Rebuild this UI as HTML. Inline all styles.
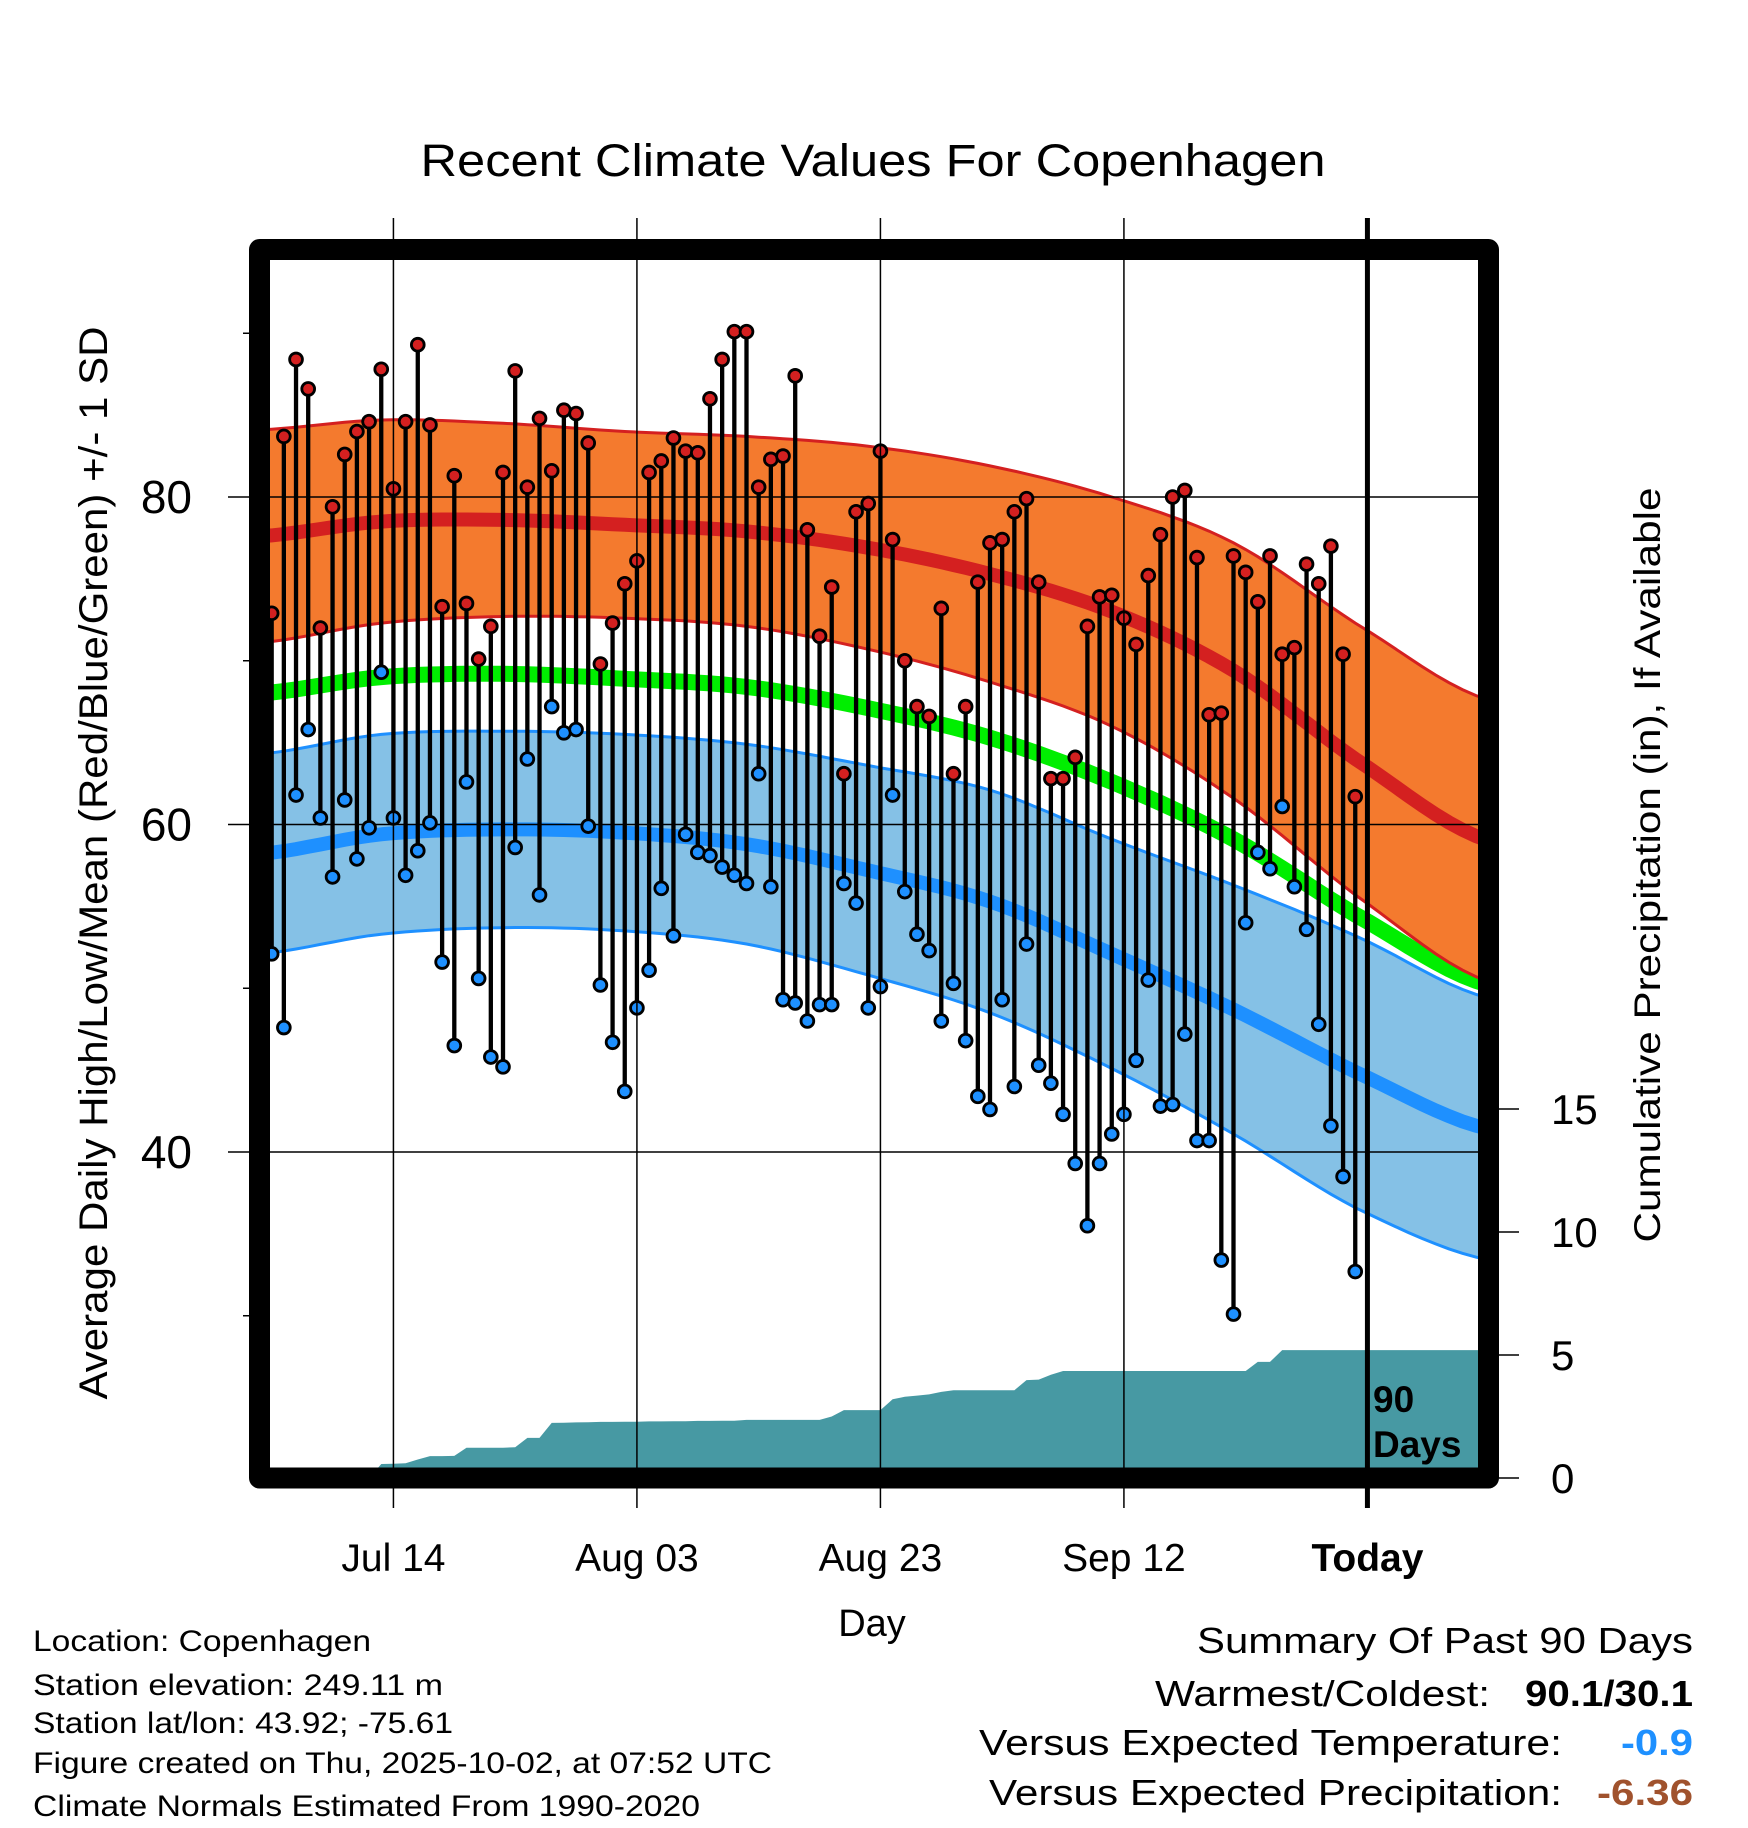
<!DOCTYPE html>
<html><head><meta charset="utf-8"><style>
html,body{margin:0;padding:0;background:#fff;}
svg{display:block;font-family:"Liberation Sans",Arial,sans-serif;}
</style></head><body>
<svg id="chart" width="1748" height="1828" viewBox="0 0 1748 1828" xmlns="http://www.w3.org/2000/svg">
<defs><clipPath id="plotclip"><rect x="260" y="250" width="1228" height="1228"/></clipPath></defs>
<rect width="1748" height="1828" fill="#fff"/>
<text x="873" y="176" font-size="45" text-anchor="middle" textLength="905" lengthAdjust="spacingAndGlyphs">Recent Climate Values For Copenhagen</text>
<g id="plot" clip-path="url(#plotclip)"></g>
<g id="overlay"></g>
<text transform="translate(107,863) rotate(-90)" font-size="40" text-anchor="middle" textLength="1073" lengthAdjust="spacingAndGlyphs">Average Daily High/Low/Mean (Red/Blue/Green) +/- 1 SD</text>
<text transform="translate(1660,865) rotate(-90)" font-size="37" text-anchor="middle" textLength="755" lengthAdjust="spacingAndGlyphs">Cumulative Precipitation (in), If Available</text>
<text x="872" y="1636" font-size="38" text-anchor="middle">Day</text>
<g font-size="30">
<text x="33" y="1651" textLength="338" lengthAdjust="spacingAndGlyphs">Location: Copenhagen</text>
<text x="33" y="1695" textLength="410" lengthAdjust="spacingAndGlyphs">Station elevation: 249.11 m</text>
<text x="33" y="1733" textLength="420" lengthAdjust="spacingAndGlyphs">Station lat/lon: 43.92; -75.61</text>
<text x="33" y="1773" textLength="739" lengthAdjust="spacingAndGlyphs">Figure created on Thu, 2025-10-02, at 07:52 UTC</text>
<text x="33" y="1816" textLength="667" lengthAdjust="spacingAndGlyphs">Climate Normals Estimated From 1990-2020</text>
</g>
<g font-size="36" text-anchor="end">
<text x="1693" y="1653" textLength="496" lengthAdjust="spacingAndGlyphs">Summary Of Past 90 Days</text>
<text x="1490" y="1706" textLength="335" lengthAdjust="spacingAndGlyphs">Warmest/Coldest:</text>
<text x="1693" y="1706" font-weight="bold" textLength="168" lengthAdjust="spacingAndGlyphs">90.1/30.1</text>
<text x="1562" y="1755" textLength="583" lengthAdjust="spacingAndGlyphs">Versus Expected Temperature:</text>
<text x="1693" y="1755" font-weight="bold" fill="#1e90ff" textLength="72" lengthAdjust="spacingAndGlyphs">-0.9</text>
<text x="1562" y="1805" textLength="573" lengthAdjust="spacingAndGlyphs">Versus Expected Precipitation:</text>
<text x="1693" y="1805" font-weight="bold" fill="#a0522d" textLength="96" lengthAdjust="spacingAndGlyphs">-6.36</text>
</g>
</svg>
<script>
// ---- data ----
const highs=[72.9,83.7,88.4,86.6,72.0,79.4,82.6,84.0,84.6,87.8,80.5,84.6,89.3,84.4,73.3,81.3,73.5,70.1,72.1,81.5,87.7,80.6,84.8,81.6,85.3,85.1,83.3,69.8,72.3,74.7,76.1,81.5,82.2,83.6,82.8,82.7,86.0,88.4,90.1,90.1,80.6,82.3,82.5,87.4,78.0,71.5,74.5,63.1,79.1,79.6,82.8,77.4,70.0,67.2,66.6,73.2,63.1,67.2,74.8,77.2,77.4,79.1,79.9,74.8,62.8,62.8,64.1,72.1,73.9,74.0,72.6,71.0,75.2,77.7,80.0,80.4,76.3,66.7,66.8,76.4,75.4,73.6,76.4,70.4,70.8,75.9,74.7,77.0,70.4,61.7];
const lows=[52.1,47.6,61.8,65.8,60.4,56.8,61.5,57.9,59.8,69.3,60.4,56.9,58.4,60.1,51.6,46.5,62.6,50.6,45.8,45.2,58.6,64.0,55.7,67.2,65.6,65.8,59.9,50.2,46.7,43.7,48.8,51.1,56.1,53.2,59.4,58.3,58.1,57.4,56.9,56.4,63.1,56.2,49.3,49.1,48.0,49.0,49.0,56.4,55.2,48.8,50.1,61.8,55.9,53.3,52.3,48.0,50.3,46.8,43.4,42.6,49.3,44.0,52.7,45.3,44.2,42.3,39.3,35.5,39.3,41.1,42.3,45.6,50.5,42.8,42.9,47.2,40.7,40.7,33.4,30.1,54.0,58.3,57.3,61.1,56.2,53.6,47.8,41.6,38.5,32.7];
const precipCum=[0,0,0,0,0,0,0,0,0,0.57,0.58,0.6,0.75,0.89,0.89,0.9,1.23,1.23,1.23,1.23,1.25,1.63,1.63,2.24,2.25,2.26,2.27,2.28,2.28,2.29,2.29,2.3,2.3,2.31,2.31,2.32,2.32,2.33,2.33,2.36,2.36,2.36,2.36,2.36,2.36,2.36,2.5,2.76,2.76,2.76,2.76,3.2,3.3,3.35,3.4,3.5,3.57,3.57,3.57,3.57,3.57,3.57,3.98,4.0,4.2,4.35,4.35,4.35,4.35,4.35,4.35,4.35,4.35,4.35,4.35,4.35,4.35,4.35,4.35,4.35,4.35,4.72,4.72,5.2,5.2,5.2,5.2,5.2,5.2,5.2];
const normDays=[0,10,20,30,40,50,60,70,80,90,101];
const normHigh=[77.6,78.5,78.6,78.3,77.9,76.9,75.3,73.0,69.4,64.0,59.0];
const sdHigh=[6.5,6.2,5.9,5.7,5.8,6.2,6.6,7.0,7.8,8.3,8.6];
const normLow=[58.2,59.4,59.7,59.5,58.8,57.2,55.3,52.1,48.7,44.9,41.4];
const sdLow=[6.1,6.1,6.0,6.0,6.1,6.4,6.8,7.0,7.6,8.3,8.0];
const normMean=[68.0,69.0,69.2,68.9,68.4,67.1,65.3,62.6,59.1,54.5,50.2];
const xTickLabels=["Jul 14","Aug 03","Aug 23","Sep 12","Today"];
const xTickDays=[11,31,51,71,91];
const yTickLabels=["40","60","80"];
const yTickValues=[40,60,80];
const yMinorValues=[30,50,70,90];
const pTickLabels=["0","5","10","15"];
const pTickValues=[0,5,10,15];

// ---- axes ----
const NS="http://www.w3.org/2000/svg";
const X=d=>259.5+d*12.175;
const Y=t=>497+(80-t)*16.375;
const P=p=>1478-p*24.6;
const plot=document.getElementById('plot');
const ov=document.getElementById('overlay');
function mk(tag,attrs,parent){const e=document.createElementNS(NS,tag);for(const k in attrs)e.setAttribute(k,attrs[k]);parent.appendChild(e);return e;}
function interp(vals){
  const pts=[];
  for(let i=0;i<normDays.length-1;i++){
    const p0=vals[Math.max(0,i-1)],p1=vals[i],p2=vals[i+1],p3=vals[Math.min(vals.length-1,i+2)];
    const d0=normDays[i],d1=normDays[i+1];
    for(let s=0;s<10;s++){const t=s/10;
      const v=0.5*((2*p1)+(-p0+p2)*t+(2*p0-5*p1+4*p2-p3)*t*t+(-p0+3*p1-3*p2+p3)*t*t*t);
      pts.push([d0+(d1-d0)*t,v]);}
  }
  pts.push([normDays[normDays.length-1],vals[vals.length-1]]);
  return pts;
}
function lineD(pts){return pts.map((p,i)=>(i?'L':'M')+X(p[0]).toFixed(1)+','+Y(p[1]).toFixed(1)).join('');}
function bandD(up,lo){return lineD(up)+lo.slice().reverse().map(p=>'L'+X(p[0]).toFixed(1)+','+Y(p[1]).toFixed(1)).join('')+'Z';}
const hi=interp(normHigh), lo=interp(normLow), mean=interp(normMean);
const hiU=interp(normHigh.map((v,i)=>v+sdHigh[i])), hiL=interp(normHigh.map((v,i)=>v-sdHigh[i]));
const loU=interp(normLow.map((v,i)=>v+sdLow[i])), loL=interp(normLow.map((v,i)=>v-sdLow[i]));

let e;
e=mk('path',{d:bandD(loU,loL),fill:'#85c1e6'},plot);


e=mk('path',{d:lineD(loU),fill:'none',stroke:'#1e90ff','stroke-width':3},plot);


e=mk('path',{d:lineD(loL),fill:'none',stroke:'#1e90ff','stroke-width':3},plot);


e=mk('path',{d:lineD(lo),fill:'none',stroke:'#1e90ff','stroke-width':14},plot);


e=mk('path',{d:lineD(mean),fill:'none',stroke:'#00ee00','stroke-width':16},plot);


e=mk('path',{d:bandD(hiU,hiL),fill:'#f47a2e'},plot);


e=mk('path',{d:lineD(hiU),fill:'none',stroke:'#d42020','stroke-width':3},plot);


e=mk('path',{d:lineD(hiL),fill:'none',stroke:'#d42020','stroke-width':3},plot);


e=mk('path',{d:lineD(hi),fill:'none',stroke:'#d42020','stroke-width':14},plot);



// precipitation area
let pd='M'+X(1)+','+P(0);
precipCum.forEach((v,i)=>{pd+='L'+X(i+1).toFixed(1)+','+P(v).toFixed(1);});
pd+='L1500,'+P(precipCum[precipCum.length-1]).toFixed(1)+'L1500,1480L'+X(1)+',1480Z';
e=mk('path',{d:pd,fill:'#4799a3'},plot);



yTickValues.forEach(v=>{
  e=mk('line',{x1:260,x2:1488,y1:Y(v),y2:Y(v),stroke:'#000','stroke-width':1.5},plot);
  
  
});
xTickDays.forEach((d,i)=>{
  const today=i===xTickDays.length-1;
  e=mk('line',{x1:X(d),x2:X(d),y1:218,y2:1508,stroke:'#000','stroke-width':today?5:1.5},ov);
  
  
});

const g=mk('g',{},plot);


highs.forEach((h,i)=>{
  const x=X(i+1);
  e=mk('line',{x1:x,x2:x,y1:Y(h),y2:Y(lows[i]),stroke:'#000','stroke-width':4.3},g);
  
  
});
highs.forEach((h,i)=>{
  const x=X(i+1);
  e=mk('circle',{cx:x,cy:Y(h),r:6.4,fill:'#d42020',stroke:'#000','stroke-width':2.8},g);
  
  
  e=mk('circle',{cx:x,cy:Y(lows[i]),r:6.4,fill:'#1e90ff',stroke:'#000','stroke-width':2.8},g);
  
  
});

e=mk('text',{x:1373,y:1412,'font-size':37,'font-weight':'bold'},plot);
e.textContent='90';


e=mk('text',{x:1373,y:1457,'font-size':37,'font-weight':'bold'},plot);
e.textContent='Days';



e=mk('rect',{x:259.5,y:249.5,width:1229,height:1228.5,fill:'none',stroke:'#000','stroke-width':21,'stroke-linejoin':'round'},ov);



yTickValues.forEach((v,i)=>{
  e=mk('line',{x1:228,x2:250,y1:Y(v),y2:Y(v),stroke:'#000','stroke-width':1.5},ov);
  
  
  e=mk('text',{x:192,y:Y(v)+16,'font-size':46,'text-anchor':'end'},ov);
  e.textContent=yTickLabels[i];
  
  
});
yMinorValues.forEach(v=>{
  e=mk('line',{x1:243,x2:250,y1:Y(v),y2:Y(v),stroke:'#000','stroke-width':1.5},ov);
  
  
});
pTickValues.forEach((v,i)=>{
  e=mk('line',{x1:1499,x2:1519,y1:P(v),y2:P(v),stroke:'#000','stroke-width':1.5},ov);
  
  
  e=mk('text',{x:1551,y:P(v)+15,'font-size':42},ov);
  e.textContent=pTickLabels[i];
  
  
});
xTickDays.forEach((d,i)=>{
  e=mk('text',{x:X(d),y:1571,'font-size':39,'text-anchor':'middle','font-weight':i===xTickDays.length-1?'bold':'normal'},ov);
  e.textContent=xTickLabels[i];
  
  
});
</script>
</body></html>
